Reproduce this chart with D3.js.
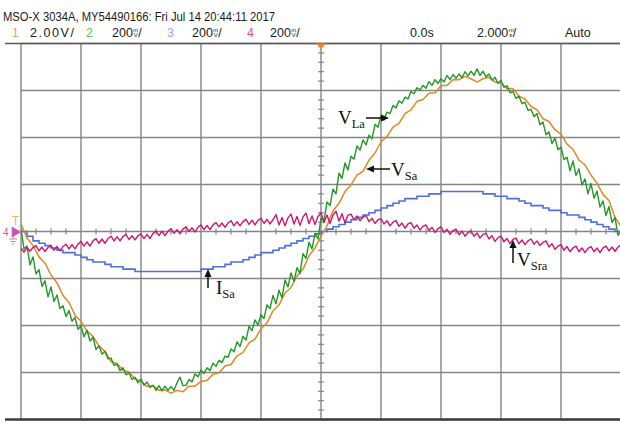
<!DOCTYPE html>
<html>
<head>
<meta charset="utf-8">
<script src="https://cdn.jsdelivr.net/npm/d3@7"></script>
<style>
  body { margin: 0; background: #fff; }
</style>
</head>
<body>
<div id="chart"></div>
<script>
var svgWidth = 620;
var svgHeight = 425;

// time axis in ms (2 ms/div), values in screen divisions
var timeDomain = [-10, 10];
var divDomain = [-4, 4];
var timeGrid = [-10, -8, -6, -4, -2, 0, 2, 4, 6, 8, 10];
var divGrid = [-4, -3, -2, -1, 0, 1, 2, 3, 4];

// channel 2 (green) V_La, sampled every 0.1 ms
var vLa = [
  0.05,-0.37,-0.31,-0.71,-0.54,-0.90,-0.81,-1.17,-1.05,-1.39,
  -1.18,-1.49,-1.35,-1.64,-1.58,-1.81,-1.68,-1.91,-1.83,-2.08,
  -2.01,-2.24,-2.10,-2.33,-2.25,-2.51,-2.43,-2.61,-2.55,-2.71,
  -2.69,-2.85,-2.82,-2.96,-2.90,-3.05,-3.01,-3.15,-3.10,-3.22,
  -3.14,-3.27,-3.20,-3.32,-3.27,-3.38,-3.28,-3.39,-3.29,-3.38,
  -3.30,-3.38,-3.22,-3.10,-3.28,-3.27,-3.15,-3.20,-3.03,-3.09,
  -2.95,-3.02,-2.90,-2.96,-2.80,-2.87,-2.74,-2.79,-2.65,-2.68,
  -2.50,-2.56,-2.35,-2.45,-2.23,-2.31,-2.02,-2.11,-1.88,-1.99,
  -1.77,-1.85,-1.56,-1.64,-1.36,-1.54,-1.25,-1.41,-1.03,-1.18,
  -0.88,-1.06,-0.77,-0.89,-0.47,-0.57,-0.23,-0.37,-0.04,-0.16,
  0.28,0.23,0.63,0.55,0.90,0.80,1.24,1.13,1.46,1.31,
  1.60,1.54,1.82,1.73,1.95,1.84,2.05,1.97,2.28,2.22,
  2.47,2.37,2.54,2.51,2.68,2.63,2.78,2.73,2.86,2.82,
  2.98,2.93,3.06,3.01,3.11,3.05,3.19,3.11,3.23,3.15,
  3.25,3.18,3.32,3.23,3.34,3.26,3.35,3.27,3.40,3.31,
  3.41,3.32,3.46,3.32,3.41,3.29,3.35,3.22,3.28,3.15,
  3.22,3.07,3.10,2.95,2.98,2.83,2.88,2.72,2.75,2.58,
  2.60,2.44,2.51,2.27,2.33,2.06,2.12,1.87,1.99,1.74,
  1.80,1.53,1.58,1.29,1.50,1.19,1.33,0.99,1.12,0.80,
  1.02,0.71,0.86,0.52,0.65,0.34,0.53,0.19,0.30,-0.08,
  0.02
];

// channel 1 (orange) V_Sa, sampled every 0.2 ms
var vSa = [
  0.16,-0.14,-0.30,-0.54,-0.67,-0.93,-1.09,-1.36,-1.51,-1.78,
  -1.91,-2.12,-2.23,-2.44,-2.55,-2.77,-2.81,-2.95,-2.99,-3.14,
  -3.18,-3.30,-3.28,-3.38,-3.37,-3.44,-3.38,-3.41,-3.29,-3.29,
  -3.19,-3.17,-3.04,-3.01,-2.86,-2.83,-2.65,-2.57,-2.37,-2.29,
  -2.07,-1.94,-1.69,-1.56,-1.31,-1.19,-0.95,-0.80,-0.52,-0.35,
  -0.10,0.12,0.44,0.60,0.85,0.99,1.20,1.28,1.52,1.67,
  1.91,2.02,2.22,2.30,2.51,2.59,2.77,2.81,2.94,2.95,
  3.10,3.11,3.23,3.23,3.30,3.25,3.18,3.25,3.28,3.18,
  3.16,3.04,3.04,2.88,2.82,2.66,2.59,2.40,2.34,2.16,
  2.07,1.86,1.75,1.52,1.42,1.20,1.03,0.79,0.66,0.30,
  0.11
];

// channel 3 (blue) I_Sa, sampled every 0.2 ms
var iSa = [
  0.00,-0.10,-0.20,-0.25,-0.30,-0.35,-0.40,-0.45,-0.45,-0.50,
  -0.55,-0.60,-0.65,-0.65,-0.70,-0.75,-0.75,-0.80,-0.80,-0.85,
  -0.85,-0.85,-0.85,-0.85,-0.85,-0.85,-0.85,-0.85,-0.85,-0.85,
  -0.80,-0.80,-0.75,-0.75,-0.70,-0.65,-0.65,-0.60,-0.55,-0.50,
  -0.45,-0.45,-0.40,-0.35,-0.30,-0.25,-0.20,-0.15,-0.10,-0.05,
  0.00,0.05,0.10,0.15,0.20,0.25,0.30,0.35,0.40,0.45,
  0.50,0.55,0.60,0.65,0.70,0.70,0.75,0.75,0.80,0.80,
  0.85,0.85,0.85,0.85,0.85,0.85,0.85,0.80,0.80,0.75,
  0.75,0.70,0.70,0.65,0.60,0.55,0.55,0.50,0.45,0.45,
  0.40,0.35,0.35,0.30,0.25,0.20,0.15,0.10,0.05,0.00,
  -0.05
];

// channel 4 (magenta) V_Sra, sampled every 0.1 ms
var vSra = [
  -0.35,-0.44,-0.34,-0.42,-0.34,-0.30,-0.41,-0.33,-0.43,-0.34,
  -0.30,-0.40,-0.32,-0.41,-0.32,-0.27,-0.37,-0.28,-0.37,-0.27,
  -0.21,-0.31,-0.22,-0.31,-0.20,-0.15,-0.25,-0.16,-0.25,-0.15,
  -0.10,-0.20,-0.11,-0.20,-0.11,-0.06,-0.17,-0.09,-0.18,-0.09,
  -0.05,-0.15,-0.06,-0.15,-0.04,0.01,-0.09,0.01,-0.09,0.01,
  0.06,-0.04,0.04,-0.05,0.05,0.10,0.00,0.08,-0.01,0.09,
  0.14,0.04,0.13,0.04,0.14,0.19,0.10,0.18,0.09,0.18,
  0.23,0.12,0.21,0.12,0.21,0.26,0.15,0.24,0.14,0.24,
  0.28,0.17,0.26,0.16,0.25,0.36,0.14,0.30,0.12,0.29,
  0.37,0.16,0.32,0.13,0.31,0.39,0.17,0.33,0.15,0.32,
  0.40,0.19,0.35,0.17,0.35,0.43,0.22,0.38,0.18,0.35,
  0.37,0.25,0.33,0.23,0.31,0.34,0.21,0.28,0.17,0.25,
  0.27,0.16,0.23,0.12,0.20,0.23,0.11,0.18,0.07,0.16,
  0.19,0.07,0.14,0.03,0.11,0.14,0.02,0.09,-0.02,0.06,
  0.10,-0.02,0.05,-0.06,0.02,0.05,-0.07,0.01,-0.10,-0.02,
  0.01,-0.10,-0.03,-0.14,-0.06,-0.04,-0.16,-0.09,-0.21,-0.13,
  -0.10,-0.22,-0.15,-0.26,-0.17,-0.14,-0.26,-0.18,-0.28,-0.20,
  -0.16,-0.27,-0.20,-0.30,-0.23,-0.20,-0.33,-0.26,-0.38,-0.31,
  -0.28,-0.40,-0.32,-0.43,-0.35,-0.31,-0.43,-0.35,-0.45,-0.36,
  -0.32,-0.43,-0.35,-0.45,-0.35,-0.31,-0.41,-0.33,-0.42,-0.33,
  -0.28
];

var headerTitle = "MSO-X 3034A, MY54490166: Fri Jul 14 20:44:11 2017";

var svg = d3.select("#chart")
  .append("svg")
  .attr("width", svgWidth)
  .attr("height", svgHeight);

var plot = { left: 21, right: 621, top: 43.5, bottom: 419.5 };

var x = d3.scaleLinear().domain(timeDomain).range([plot.left, plot.right]);
var y = d3.scaleLinear().domain(divDomain).range([plot.bottom, plot.top]);

var sans = "'Liberation Sans', Arial, sans-serif";
var serif = "'Liberation Serif', 'DejaVu Serif', serif";

// ---- header ----
svg.append("text")
  .text(headerTitle)
  .attr("x", 3).attr("y", 21)
  .attr("font-family", sans).attr("font-size", 12.5)
  .attr("textLength", 272).attr("lengthAdjust", "spacingAndGlyphs")
  .attr("fill", "#1a1a1a");

function headText(str, xPos, color) {
  return svg.append("text")
    .text(str)
    .attr("x", xPos).attr("y", 37)
    .attr("font-family", sans).attr("font-size", 12.5)
    .attr("fill", color);
}

// value + tiny stacked unit (m over V / s) + slash, as one text
function scaleText(num, xPos, top, bottom) {
  var t = svg.append("text")
    .attr("x", xPos).attr("y", 37)
    .attr("font-family", sans).attr("font-size", 12.5)
    .attr("fill", "#1a1a1a");
  t.append("tspan").text(num);
  t.append("tspan").text(top).attr("font-size", 6).attr("dx", 0.5).attr("dy", -5.5);
  t.append("tspan").text(bottom).attr("font-size", 6).attr("dx", -4.6).attr("dy", 5.8);
  t.append("tspan").text("/").attr("dx", 0.5).attr("dy", -0.3);
}

headText("1", 12, "#f0a450");
headText("2.00V/", 30, "#1a1a1a").attr("textLength", 44).attr("lengthAdjust", "spacing");
headText("2", 86, "#5cbf5a");
scaleText("200", 112, "m", "V");
headText("3", 167, "#93a9e8");
scaleText("200", 192, "m", "V");
headText("4", 247, "#e8489e");
scaleText("200", 270, "m", "V");
headText("0.0s", 410, "#1a1a1a");
scaleText("2.000", 477, "m", "s");
headText("Auto", 565, "#1a1a1a");

// ---- graticule ----
var grid = svg.append("g");

grid.selectAll(".vgrid")
  .data(timeGrid)
  .enter()
  .append("line")
  .attr("x1", function(d) { return x(d); })
  .attr("x2", function(d) { return x(d); })
  .attr("y1", plot.top)
  .attr("y2", plot.bottom)
  .attr("stroke", "#858585")
  .attr("stroke-width", 1.4);

grid.selectAll(".hgrid")
  .data(divGrid)
  .enter()
  .append("line")
  .attr("x1", plot.left)
  .attr("x2", plot.right)
  .attr("y1", function(d) { return y(d); })
  .attr("y2", function(d) { return y(d); })
  .attr("stroke", "#858585")
  .attr("stroke-width", 1.4);

// minor ticks on the centre axes: 4 per time division, 5 per vertical division
var timeMinor = d3.range(-20, 21).filter(function(i) { return i % 4 != 0; })
  .map(function(i) { return i * 0.5; });
var divMinor = d3.range(-20, 21).filter(function(i) { return i % 5 != 0; })
  .map(function(i) { return i * 0.2; });

grid.selectAll(".tminor")
  .data(timeMinor)
  .enter()
  .append("line")
  .attr("x1", function(d) { return x(d); })
  .attr("x2", function(d) { return x(d); })
  .attr("y1", y(0) - 3)
  .attr("y2", y(0) + 3)
  .attr("stroke", "#858585")
  .attr("stroke-width", 1.2);

grid.selectAll(".dminor")
  .data(divMinor)
  .enter()
  .append("line")
  .attr("x1", x(0) - 3)
  .attr("x2", x(0) + 3)
  .attr("y1", function(d) { return y(d); })
  .attr("y2", function(d) { return y(d); })
  .attr("stroke", "#858585")
  .attr("stroke-width", 1.2);

// frame top / bottom
svg.append("line")
  .attr("x1", 5).attr("x2", svgWidth).attr("y1", plot.top).attr("y2", plot.top)
  .attr("stroke", "#5a5a5a").attr("stroke-width", 1.6);
svg.append("line")
  .attr("x1", 5).attr("x2", svgWidth).attr("y1", plot.bottom).attr("y2", plot.bottom)
  .attr("stroke", "#3c3c3c").attr("stroke-width", 2.4);

// ---- traces ----
svg.append("clipPath").attr("id", "clip")
  .append("rect")
  .attr("x", plot.left).attr("y", plot.top)
  .attr("width", plot.right - plot.left).attr("height", plot.bottom - plot.top);

function toPoints(vals, step) {
  return vals.map(function(v, i) { return [timeDomain[0] + i * step, v]; });
}

var traceLine = d3.line()
  .x(function(d) { return x(d[0]); })
  .y(function(d) { return y(d[1]); });

var stepLine = d3.line()
  .curve(d3.curveStepAfter)
  .x(function(d) { return x(d[0]); })
  .y(function(d) { return y(d[1]); });

var traces = svg.append("g").attr("clip-path", "url(#clip)");

traces.append("path")
  .attr("d", stepLine(toPoints(iSa, 0.2)))
  .attr("fill", "none")
  .attr("stroke", "#4d6fe0")
  .attr("stroke-width", 1.6);

traces.append("path")
  .attr("d", traceLine(toPoints(vSa, 0.2)))
  .attr("fill", "none")
  .attr("stroke", "#dd8a1f")
  .attr("stroke-width", 1.5)
  .attr("stroke-linejoin", "round");

traces.append("path")
  .attr("d", traceLine(toPoints(vLa, 0.1)))
  .attr("fill", "none")
  .attr("stroke", "#24962a")
  .attr("stroke-width", 1.4)
  .attr("stroke-linejoin", "round");

traces.append("path")
  .attr("d", traceLine(toPoints(vSra, 0.1)))
  .attr("fill", "none")
  .attr("stroke", "#cc1672")
  .attr("stroke-width", 1.4)
  .attr("stroke-linejoin", "round");

// ---- channel markers ----
svg.append("polygon")
  .attr("points", (x(0) - 5) + "," + plot.top + " " + (x(0) + 5) + "," + plot.top + " " + x(0) + "," + (plot.top + 6))
  .attr("fill", "#f08a20");

svg.append("text").text("T")
  .attr("x", 12).attr("y", 225)
  .attr("font-family", sans).attr("font-size", 12)
  .attr("fill", "#f4b060");
svg.append("text").text("4")
  .attr("x", 3).attr("y", 236)
  .attr("font-family", sans).attr("font-size", 10)
  .attr("fill", "#e8489e");
svg.append("polygon")
  .attr("points", "12,227 21,232 12,237")
  .attr("fill", "#e8489e").attr("stroke", "#7e8fe8").attr("stroke-width", 0.8);
var gnd = svg.append("g").attr("stroke", "#d77ab0").attr("stroke-width", 1);
gnd.append("line").attr("x1", 13).attr("x2", 13).attr("y1", 236).attr("y2", 239);
gnd.append("line").attr("x1", 9).attr("x2", 17).attr("y1", 239).attr("y2", 239);
gnd.append("line").attr("x1", 10.5).attr("x2", 15.5).attr("y1", 241.5).attr("y2", 241.5);
gnd.append("line").attr("x1", 12).attr("x2", 14).attr("y1", 244).attr("y2", 244);

// ---- annotations ----
function arrow(x1, y1, x2, y2) {
  var ang = Math.atan2(y2 - y1, x2 - x1);
  var len = 8, w = 3.5;
  var bx = x2 - len * Math.cos(ang), by = y2 - len * Math.sin(ang);
  svg.append("line")
    .attr("x1", x1).attr("y1", y1).attr("x2", bx).attr("y2", by)
    .attr("stroke", "#111").attr("stroke-width", 1.5);
  var px = -Math.sin(ang) * w, py = Math.cos(ang) * w;
  svg.append("polygon")
    .attr("points", x2 + "," + y2 + " " + (bx + px) + "," + (by + py) + " " + (bx - px) + "," + (by - py))
    .attr("fill", "#111");
}

function label(main, sub, xPos, yPos) {
  var t = svg.append("text")
    .attr("x", xPos).attr("y", yPos)
    .attr("font-family", serif).attr("font-size", 19)
    .attr("fill", "#111");
  t.append("tspan").text(main);
  t.append("tspan").text(sub).attr("font-size", 12.5).attr("dy", 4);
}

label("V", "La", 338, 124);
arrow(366, 118, 389, 118);

label("V", "Sa", 391, 176);
arrow(390, 169, 366, 169);

label("I", "Sa", 216, 294);
arrow(208, 288, 208, 269);

label("V", "Sra", 517, 266);
arrow(513, 263, 513, 240);
</script>
</body>
</html>
